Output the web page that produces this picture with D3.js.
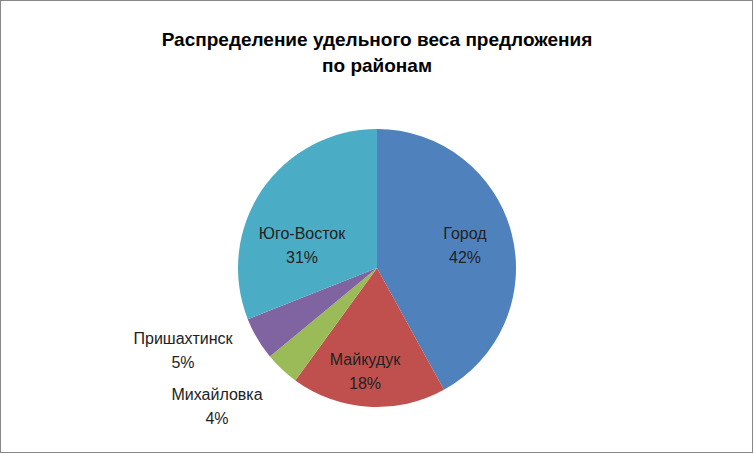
<!DOCTYPE html><html><head><meta charset="utf-8">
<script src="https://cdn.jsdelivr.net/npm/d3@7"></script>
<style>body{margin:0;background:#fff}</style></head><body>
<svg id="c" width="754" height="454"></svg>
<script>
const categories=["Город","Майкудук","Михайловка","Пришахтинск","Юго-Восток"];
const values=[42,18,4,5,31];
const colors=["#4F81BD","#C0504D","#9BBB59","#8064A2","#4BACC6"];
const svg=d3.select("#c");
svg.append("rect").attr("x",0.5).attr("y",0.5).attr("width",752).attr("height",452).attr("fill","#fff").attr("stroke","#888");
const font="'Liberation Sans', Arial, sans-serif";
svg.append("text").attr("x",377).attr("y",46).attr("text-anchor","middle").attr("font-family",font).attr("font-weight","bold").attr("font-size",19).text("Распределение удельного веса предложения");
svg.append("text").attr("x",377).attr("y",72).attr("text-anchor","middle").attr("font-family",font).attr("font-weight","bold").attr("font-size",19).text("по районам");
const cx=377,cy=268,r=139;
const pie=d3.pie().sort(null).value(d=>d)(values);
const g=svg.append("g").attr("transform",`translate(${cx},${cy})`);
g.selectAll("path").data(pie).enter().append("path").attr("d",d3.arc().innerRadius(0).outerRadius(r)).attr("fill",(d,i)=>colors[i]);
const pos=[[88,-23],[-12,103],[-160,138],[-194,82],[-75,-23]];
pie.forEach((d,i)=>{
  const t=g.append("text").attr("text-anchor","middle").attr("font-family",font).attr("font-size",16).attr("fill","#222");
  t.append("tspan").attr("x",pos[i][0]).attr("y",pos[i][1]-6).text(categories[i]);
  t.append("tspan").attr("x",pos[i][0]).attr("y",pos[i][1]+18).text(values[i]+"%");
});
</script></body></html>
